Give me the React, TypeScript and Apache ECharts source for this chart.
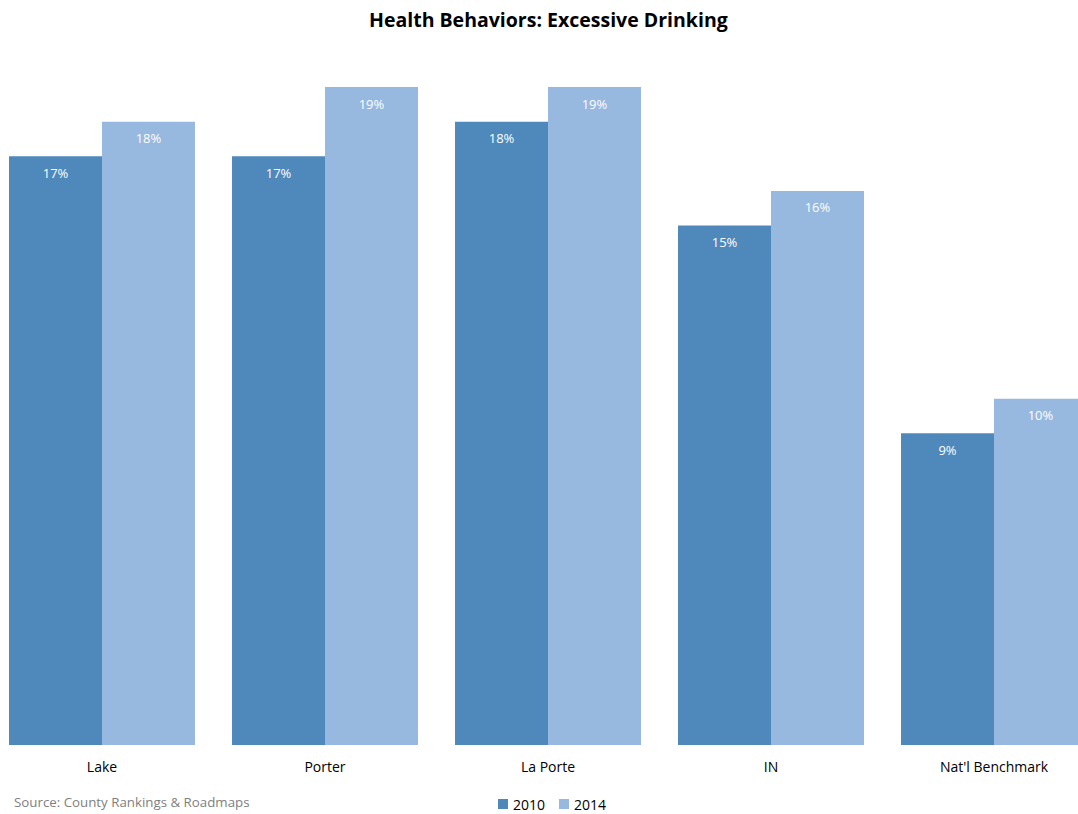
import React, { useEffect, useRef } from "react";
import * as echarts from "echarts";

const categories = ["Lake", "Porter", "La Porte", "IN", "Nat'l Benchmark"];
const values2010 = [17, 17, 18, 15, 9];
const values2014 = [18, 19, 19, 16, 10];
const seriesNames = ["2010", "2014"];

const FONT = "'Open Sans', sans-serif";

export default function App() {
  const ref = useRef<HTMLDivElement>(null);
  useEffect(() => {
    if (!ref.current) return;
    const chart = echarts.init(ref.current, null, { renderer: "svg" });
    const label = {
      show: true,
      position: "insideTop",
      distance: 10,
      color: "#ffffff",
      fontSize: 13,
      fontFamily: FONT,
      formatter: (p: any) => p.value + "%",
    };
    chart.setOption({
      animation: false,
      backgroundColor: "#ffffff",
      title: {
        text: "Health Behaviors: Excessive Drinking",
        left: 364,
        top: 4,
        textStyle: { fontSize: 19.5, fontWeight: "bold", color: "#000", fontFamily: FONT },
      },
      graphic: [
        {
          type: "text",
          left: 14,
          top: 795,
          style: { text: "Source: County Rankings & Roadmaps", fill: "#808080", fontSize: 13.3, fontFamily: FONT },
        },
      ],
      legend: {
        data: seriesNames,
        left: 493,
        top: 792,
        itemWidth: 10,
        itemHeight: 10,
        itemGap: 14,
        icon: "rect",
        textStyle: { fontSize: 14, color: "#000", fontFamily: FONT },
      },
      grid: {
        left: -9.5,
        width: 1115,
        top: 52.4,
        bottom: 69,
        containLabel: false,
        outerBoundsMode: "none",
      },
      xAxis: {
        type: "category",
        data: categories,
        axisLine: { show: false },
        axisTick: { show: false },
        axisLabel: { color: "#000", fontSize: 14, margin: 14, fontFamily: FONT },
      },
      yAxis: {
        type: "value",
        min: 0,
        max: 20,
        show: false,
        splitLine: { show: false },
      },
      series: [
        {
          name: seriesNames[0],
          type: "bar",
          data: values2010,
          itemStyle: { color: "#4F89BC" },
          barGap: "0%",
          barCategoryGap: "16.6%",
          label,
        },
        {
          name: seriesNames[1],
          type: "bar",
          data: values2014,
          itemStyle: { color: "#97B8DF" },
          barGap: "0%",
          barCategoryGap: "16.6%",
          label,
        },
      ],
    });
    return () => chart.dispose();
  }, []);
  return (
    <div
      ref={ref}
      style={{ position: "fixed", left: 0, top: 0, width: 1078, height: 814 }}
    />
  );
}
